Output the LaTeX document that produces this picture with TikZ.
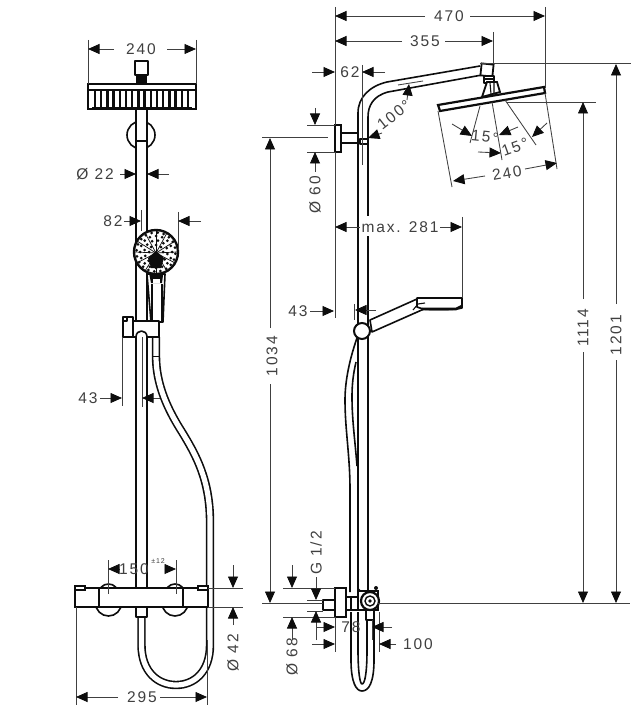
\documentclass[tikz,border=0pt]{standalone}
\usepackage{fontspec}
\setmainfont[LetterSpace=12]{Liberation Sans}
\usetikzlibrary{arrows.meta}
\definecolor{ink}{gray}{0.05}
\definecolor{dimc}{gray}{0.25}
\tikzset{
  x=1pt,y=-1pt,
  thick line/.style={draw=ink,line width=1.6pt,line join=round},
  med line/.style={draw=ink,line width=1.1pt,line join=round},
  body/.style={thick line,fill=white},
  ext/.style={draw=dimc,line width=0.85pt},
  arr/.style={draw=dimc,line width=0.85pt,-{Triangle[length=11.5pt,width=10pt,color=ink]}},
  lab/.style={text=dimc,font=\fontsize{15.5}{17}\selectfont,inner sep=0pt},
  hoseout/.style={draw=ink,line width=8.4pt,line cap=butt},
  hosein/.style={draw=white,line width=5.2pt,line cap=butt},
}
\begin{document}
\begin{tikzpicture}
\useasboundingbox (0,0) rectangle (636,719);
\fill[white] (0,0) rectangle (636,719);

%%%%%%%%%%%%%%%% LEFT VIEW
% wall bracket ring
\draw[thick line] (141,135) circle[radius=14];
% rail
\fill[white] (136,109) rectangle (147,588);
\draw[thick line] (136,109) -- (136,588);
\draw[thick line] (147,109) -- (147,588);
\draw[thick line] (136,141) -- (147,141);
% overhead head
\draw[body] (137,75) rectangle (146,84);
\fill[ink] (137,76) rectangle (146,84);
\draw[body] (135,61) rectangle (148,75);
\draw[ink,line width=2pt,fill=white] (88,84) rectangle (196,109);
\draw[med line] (88,90) -- (196,90);
\foreach \i in {0,...,15}{
  \draw[ink,line width=2.5pt] ({95+\i*6.2},91) -- ({95+\i*6.2},108);
}
\draw[ink,line width=1.2pt] (92,108) -- (192,108);
% thermostat domes
\draw[thick line] (108.5,594) circle[radius=10];
\draw[thick line] (175,594) circle[radius=10];
\draw[thick line] (108.5,603) circle[radius=13];
\draw[thick line] (175,603) circle[radius=13];
% hose, holder side
\path[hoseout] (156,337) -- (156,356) .. controls (156,385) and (168,410) .. (182,432)
  .. controls (196,455) and (210,480) .. (210,522) -- (210,645)
  .. controls (210,672) and (194,685) .. (176,685)
  .. controls (158,685) and (141.5,672) .. (141.5,645) -- (141.5,615);
\path[hosein] (156,337) -- (156,356) .. controls (156,385) and (168,410) .. (182,432)
  .. controls (196,455) and (210,480) .. (210,522) -- (210,645)
  .. controls (210,672) and (194,685) .. (176,685)
  .. controls (158,685) and (141.5,672) .. (141.5,645) -- (141.5,615);
\draw[ink,line width=0.7pt] (153,356) -- (159,356);
% thermostat
\draw[body] (136,607) rectangle (147,617);
\draw[ink,line width=1.8pt,fill=white] (75,588) rectangle (208,607);
\draw[ink,line width=2.4pt] (99,588) -- (99,607);
\draw[ink,line width=2.4pt] (183,588) -- (183,607);
\draw[ink,line width=1.6pt,fill=white] (75,586) rectangle (85,590);
\draw[ink,line width=1.6pt,fill=white] (198,586) rectangle (208,590);
\draw[ext] (108,584) -- (108,594);
\draw[ext] (176,584) -- (176,594);
% hand shower front
\draw[body] (147,274) -- (151,322) -- (163,322) -- (165,274) -- cycle;
\draw[med line] (152,284) -- (152,321) (162,284) -- (162,321);
\fill[ink] (148,268) -- (151,283) -- (162,283) -- (164,268) -- cycle;
\fill[white] (153,279) rectangle (160,283);
\draw[ink,line width=2.4pt,fill=white] (156,252) circle[radius=22];
\foreach \a in {0,30,...,330}{
  \draw[ink,line width=0.7pt] (156,253) -- ({156+21*cos(\a)},{252+21*sin(\a)});
}
\foreach \r/\n/\s in {7/8/0,11.5/12/10,16/16/0,19.5/20/5}{
  \pgfmathtruncatemacro{\m}{\n-1}
  \foreach \k in {0,...,\m}{
    \fill[ink] ({156+\r*cos(\s+360*\k/\n)},{252+\r*sin(\s+360*\k/\n)}) circle[radius=1.5];
  }
}
\fill[ink] (156,251) -- (148,258) -- (151,268) -- (161,268) -- (164,258) -- cycle;
% holder
\draw[body] (123,317) rectangle (133,337);
\draw[med line] (123,321) -- (127,321) -- (127,317);
\draw[body] (133,321) -- (159,321) -- (159,337) -- (147,337)
  .. controls (147,329) and (136,329) .. (136,337) -- (133,337) -- cycle;

%%%%%%%%%%%%%%%% RIGHT VIEW
% rail and arm
\draw[thick line] (358,600) -- (358,113) .. controls (358,97) and (370,86) .. (387,82) -- (480,66);
\draw[thick line] (368,600) -- (368,117) .. controls (368,106) and (373,96) .. (388,92) -- (482,75);
\fill[white] (364,216) rectangle (372,236);
% hose beside rail
\draw[thick line] (357,338) .. controls (350,358) and (345,380) .. (345,400)
  .. controls (345,430) and (350,455) .. (350,490) -- (350,592);
\draw[thick line] (356,362) .. controls (353,375) and (352,385) .. (352,397)
  .. controls (352,420) and (355,440) .. (357,466);
% wall bracket
\draw[body] (341,133) rectangle (358,143);
\draw[ink,line width=2pt,fill=white] (335,125) rectangle (341,152);
\draw[med line,fill=white] (360,139) rectangle (368,144);
% head connector
\draw[ink,line width=1.8pt,fill=white,rotate around={-6:(487,70)}] (481,64) rectangle (493,76);
\draw[body] (484,76) rectangle (494,83);
\draw[med line] (484,79) -- (494,79);
\draw[ink,line width=1.8pt,fill=white] (487,82) -- (497,82) -- (500,92) -- (482,97) -- cycle;
\draw[med line] (490,83) -- (491,94) (494,83) -- (494,93);
\draw[ink,line width=2.2pt,fill=white] (438,105) -- (544,87) -- (545,93) -- (440,111) -- cycle;
% hand shower side
\draw[body] (370,320) -- (417,299) -- (424,309) -- (372,332) -- cycle;
\draw[body] (417,298) -- (462,298) -- (462,308) .. controls (455,310) and (430,310) .. (423,309) -- (417,307) -- cycle;
\draw[ink,line width=2.6pt] (422,309) -- (456,309) -- (462,306);
\draw[med line] (413,310) -- (418,304) -- (425,303);
\draw[ink,line width=2pt,fill=white] (362,331) circle[radius=8];
% fitting at bottom
\draw[body] (366,610) rectangle (374,620);
\draw[ink,line width=2pt] (358,591) rectangle (378,610);
\fill[white] (359,592) rectangle (377,609);
\fill[ink] (376,588) circle[radius=2] (359,590) circle[radius=1.5];
\draw[body] (346,597) rectangle (358,610);
\draw[med line] (351,597) -- (351,610);
\draw[body] (323,600) rectangle (335,610);
\draw[ink,line width=2pt,fill=white] (335,588) rectangle (346,617);
\draw[ink,line width=2.2pt,fill=white] (370,601) circle[radius=9];
\draw[ink,line width=1.4pt] (370,601) circle[radius=5];
\fill[ink] (370,601) circle[radius=1.8];
% loop below fitting
\draw[thick line] (351,612) -- (351,660) .. controls (351,682) and (356,691) .. (362,691)
  .. controls (369,691) and (374,682) .. (374,660) -- (374,620);
\draw[thick line] (358,612) -- (358,650) .. controls (358,672) and (360,684) .. (362,684)
  .. controls (365,684) and (367,672) .. (367,650) -- (367,620);

%%%%%%%%%%%%%%%% EXTENSION LINES
\draw[ext] (88,40) -- (88,84);
\draw[ext] (196,40) -- (196,84);
\draw[ext] (141,210) -- (141,231);
\draw[ext] (178,212) -- (178,250);
\draw[ext] (122,337) -- (122,406);
\draw[ext] (142,337) -- (142,407);
\draw[ext] (108,560) -- (108,584);
\draw[ext] (176,560) -- (176,584);
\draw[ext] (208,588) -- (243,588);
\draw[ext] (208,607) -- (243,607);
\draw[ext] (76,607) -- (76,705);
\draw[ext] (207,640) -- (207,705);

\draw[ext] (335,7) -- (335,125);
\draw[ext] (335,152) -- (335,318);
\draw[ext] (545,7) -- (545,88);
\draw[ext] (493,32) -- (493,64);
\draw[ext] (480,63) -- (631,63);
\draw[ext] (507,102) -- (596,102);
\draw[ext] (362,65) -- (362,165);
\draw[ext] (398,85) -- (423,81);
\draw[ext] (307,125) -- (335,125);
\draw[ext] (307,152) -- (335,152);
\draw[ext] (262,137) -- (328,137);
\draw[ext] (438,111) -- (452,187);
\draw[ext] (545,93) -- (557,169);
\draw[ext] (480,106) -- (470,143);
\draw[ext] (492,102) -- (502,160);
\draw[ext] (505,100) -- (536,145);
\draw[ext] (462,217) -- (462,298);
\draw[ext] (354,304) -- (354,320);
\draw[ext] (262,603) -- (323,603);
\draw[ext] (378,603) -- (630,603);
\draw[ext] (307,600) -- (323,600);
\draw[ext] (307,611) -- (323,611);
\draw[ext] (283,588) -- (335,588);
\draw[ext] (283,617) -- (335,617);
\draw[ext] (335,617) -- (335,652);
\draw[ext] (379,612) -- (379,652);
\draw[ext] (372,620) -- (372,640);

%%%%%%%%%%%%%%%% LABELS
\node[lab] (t240a) at (141,49) {240};
\node[lab] (td22) at (95,174) {Ø 22};
\node[lab] (t82) at (113,221) {82};
\node[lab] (t43a) at (88,398) {43};
\node[lab] (t150) at (134,569) {150};
\node[lab,font=\fontsize{7}{8}\selectfont] (t12) at (158,561) {±12};
\node[lab,rotate=90] (td42) at (233,653) {Ø 42};
\node[lab] (t295) at (142,697) {295};
\node[lab] (t470) at (449,16) {470};
\node[lab] (t355) at (425,41) {355};
\node[lab] (t62) at (350,72) {62};
\node[lab,rotate=38] (t100d) at (394,115) {100°};
\node[lab,rotate=-6] (t15a) at (485,137) {15°};
\node[lab,rotate=20] (t15b) at (515,147) {15°};
\node[lab,rotate=10] (t240b) at (507,173) {240};
\node[lab,rotate=90] (td60) at (315,195) {Ø 60};
\node[lab] (tmax) at (400,227) {max. 281};
\node[lab] (t43b) at (298,311) {43};
\node[lab,rotate=90] (t1034) at (272,356) {1034};
\node[lab,rotate=90] (t1114) at (583,328) {1114};
\node[lab,rotate=90] (t1201) at (616,335) {1201};
\node[lab,rotate=90] (tg) at (316,553) {G 1/2};
\node[lab,rotate=90] (td68) at (292,657) {Ø 68};
\node[lab] (t78) at (351,627) {78};
\node[lab] (t100) at (418,644) {100};

%%%%%%%%%%%%%%%% DIMENSION ARROWS
\draw[arr] (114,49) -- (88,49);
\draw[arr] (167,49) -- (196,49);
\draw[arr] (120,174) -- (136,174);
\draw[arr] (169,174) -- (147,174);
\draw[arr] (124,221) -- (141,221);
\draw[arr] (201,221) -- (178,221);
\draw[arr] (100,398) -- (122,398);
\draw[arr] (160,398) -- (142,398);
\draw[arr] (119.5,569) -- (108,569);
\draw[arr] (164.5,569) -- (176,569);
\draw[arr] (233,565) -- (233,588);
\draw[arr] (233,625) -- (233,607);
\draw[arr] (118,697) -- (76,697);
\draw[arr] (160,697) -- (207,697);

\draw[arr] (425,16) -- (335,16);
\draw[arr] (470,16) -- (545,16);
\draw[arr] (402,41) -- (335,41);
\draw[arr] (445,41) -- (493,41);
\draw[arr] (312,72) -- (335,72);
\draw[arr] (385,72) -- (362,72);
\draw[arr] (382,133) -- (368,138);
\draw[arr] (407,100) -- (409,84);
\draw[arr] (452,124) -- (472,136);
\draw[arr] (518,127) -- (499,135);
\draw[arr] (547,123) -- (532,137);
\draw[arr] (478,152) -- (501,153);
\draw[arr] (485,176) -- (453,181);
\draw[arr] (525,169) -- (557,163);
\draw[arr] (315,108) -- (315,125);
\draw[arr] (315,172) -- (315,152);
\draw[arr] (360,227) -- (335,227);
\draw[arr] (440,227) -- (462,227);
\draw[arr] (310,311) -- (334,311);
\draw[arr] (376,310) -- (355,310);
\draw[arr] (270,328) -- (270,138);
\draw[arr] (270,384) -- (270,603);
\draw[arr] (583,299) -- (583,102);
\draw[arr] (583,352) -- (583,603);
\draw[arr] (616,304) -- (616,64);
\draw[arr] (616,360) -- (616,603);
\draw[arr] (316,577) -- (316,600);
\draw[arr] (316,640) -- (316,611);
\draw[arr] (292,565) -- (292,588);
\draw[arr] (292,640) -- (292,617);
\draw[arr] (317,627) -- (335,627);
\draw[arr] (392,627) -- (372,627);
\draw[arr] (312,644) -- (335,644);
\draw[arr] (396,644) -- (379,644);
\end{tikzpicture}
\end{document}
